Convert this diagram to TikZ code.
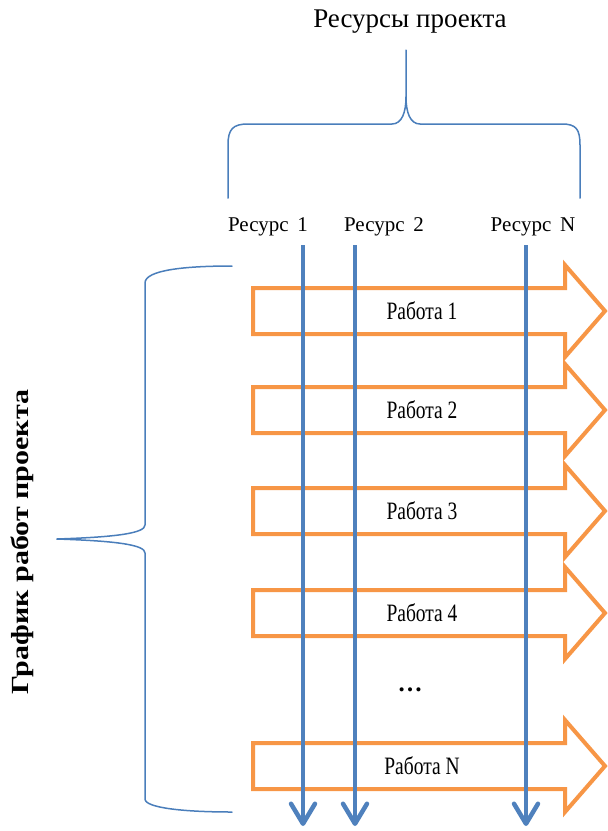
\documentclass[tikz,border=0pt]{standalone}
\usepackage{fontspec}
\usepackage{graphicx}
\setmainfont{Liberation Serif}
\newfontfamily\narrowfont[FakeStretch=0.78]{Liberation Serif}
\usetikzlibrary{arrows.meta}
\definecolor{resblue}{HTML}{4F81BD}
\definecolor{workorange}{HTML}{F79646}
\definecolor{bracecol}{HTML}{4A7EBB}
\tikzset{
  bracestyle/.style={draw=bracecol, line width=1.5pt, line cap=round},
  workarrow/.style={draw=workorange, line width=4pt, line join=miter, fill=white},
  resline/.style={draw=resblue, line width=4.5pt,
    -{Straight Barb[length=20pt, width=24pt, line cap=round, line join=round]}},
  worklabel/.style={inner sep=0pt, font=\narrowfont\fontsize{25}{25}\selectfont},
  reslabel/.style={inner sep=0pt, font=\fontsize{21}{21}\selectfont},
}
\begin{document}
\begin{tikzpicture}[x=1pt,y=-1pt]
\useasboundingbox (0,0) rectangle (608,831);

% title and top brace
\node[inner sep=0pt, font=\fontsize{27}{27}\selectfont] (title) at (410,22) {Ресурсы проекта};
\coordinate (toptip) at (406,50);
\draw[bracestyle] (228,198) -- (228,145) .. controls (228,129) and (233,124) .. (248,124)
  -- (392,124) .. controls (402,124) and (406,112) .. (406,97) -- (toptip);
\draw[bracestyle] (406,97) .. controls (406,112) and (410,124) .. (420,124)
  -- (562,124) .. controls (576,124) and (580,129) .. (580,145) -- (580,198);

% resource labels
\node[reslabel] (res1) at (268,227) {Ресурс\, 1};
\node[reslabel] (res2) at (384,227) {Ресурс\, 2};
\node[reslabel] (resN) at (533,227) {Ресурс\, N};

% left brace and its label
\coordinate (lefttip) at (57,539);
\draw[bracestyle] (232,266) .. controls (185,266) and (145,270) .. (145,283) -- (145,525)
  .. controls (145,533) and (118,537) .. (lefttip);
\draw[bracestyle] (lefttip) .. controls (118,541) and (145,545) .. (145,553) -- (145,799)
  .. controls (145,808) and (185,812) .. (232,812);
\node[rotate=90, inner sep=0pt] (gtext) at (22,542)
  {\scalebox{1}[0.82]{\bfseries\fontsize{30}{30}\selectfont График работ проекта}};

% work arrows
\foreach \c/\lab/\nm in {311/Работа 1/w1, 410/Работа 2/w2, 511/Работа 3/w3, 613/Работа 4/w4, 766/Работа N/wN}{
  \draw[workarrow] (253,\c-23) -- (565,\c-23) -- (565,\c-46) -- (605,\c)
    -- (565,\c+46) -- (565,\c+23) -- (253,\c+23) -- cycle;
  \node[worklabel] (\nm) at (422,\c) {\lab};
}
\node[inner sep=0pt, font=\bfseries\fontsize{25}{25}\selectfont] (dots) at (410,690) {…};

% resource lines
\coordinate (r1top) at (303,245); \coordinate (r1bot) at (303,826);
\coordinate (r2top) at (355,245); \coordinate (r2bot) at (355,826);
\coordinate (rNtop) at (526,245); \coordinate (rNbot) at (526,826);
\draw[resline] (r1top) -- (r1bot);
\draw[resline] (r2top) -- (r2bot);
\draw[resline] (rNtop) -- (rNbot);
\end{tikzpicture}
\end{document}
